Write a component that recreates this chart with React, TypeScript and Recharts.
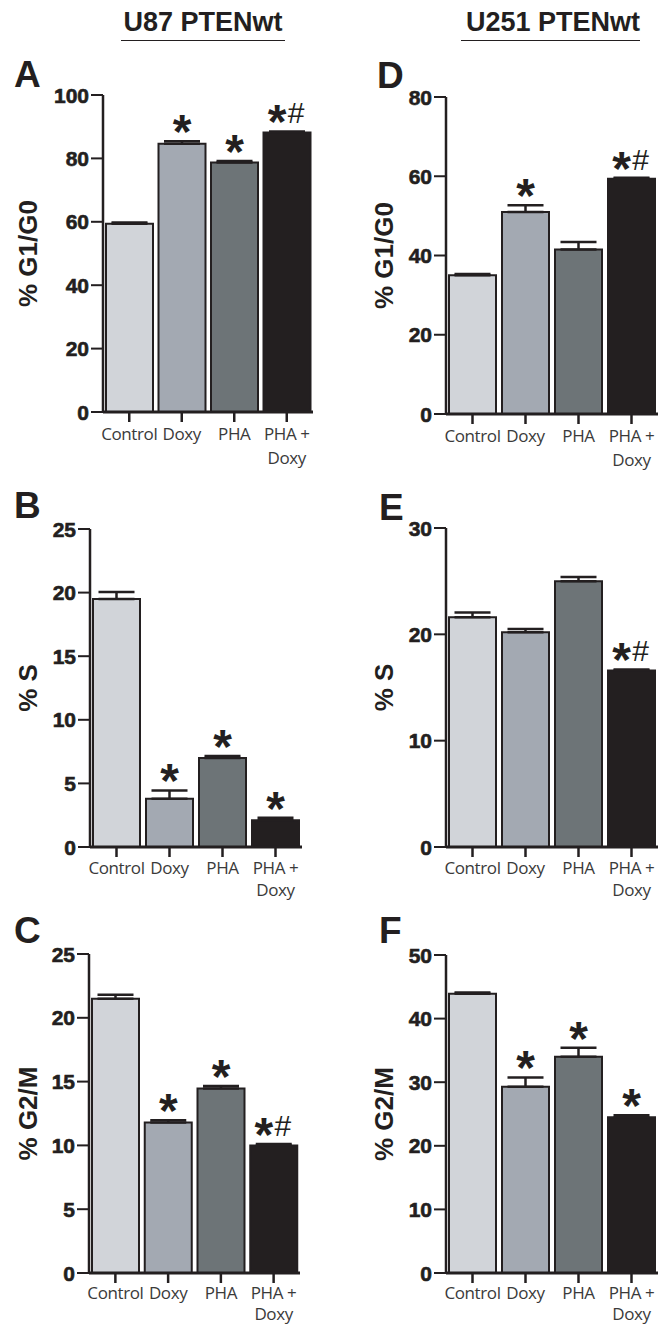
import { Bar, BarChart, Cell, ErrorBar, LabelList, XAxis, YAxis } from "recharts";

const INK = "#231f20";
const SANS = "'Liberation Sans', Arial, sans-serif";

const categories = ["Control", "Doxy", "PHA", "PHA + Doxy"];
const barColors = ["#d1d4d9", "#a3a9b2", "#6d7477", "#231f20"];

// U87 PTENwt
const u87G1 = [59.4, 84.6, 78.7, 88.2];
const u87G1Err = [0.4, 0.8, 0.5, 0.3];
const u87G1Marks = ["", "*", "*", "*#"];
const u87S = [19.5, 3.8, 7.0, 2.1];
const u87SErr = [0.55, 0.65, 0.15, 0.2];
const u87SMarks = ["", "*", "*", "*"];
const u87G2 = [21.5, 11.8, 14.45, 10.0];
const u87G2Err = [0.3, 0.18, 0.2, 0.1];
const u87G2Marks = ["", "*", "*", "*#"];

// U251 PTENwt
const u251G1 = [35.0, 51.0, 41.5, 59.4];
const u251G1Err = [0.3, 1.7, 1.9, 0.2];
const u251G1Marks = ["", "*", "", "*#"];
const u251S = [21.6, 20.2, 25.0, 16.6];
const u251SErr = [0.45, 0.3, 0.4, 0.1];
const u251SMarks = ["", "", "", "*#"];
const u251G2 = [43.9, 29.3, 34.0, 24.5];
const u251G2Err = [0.2, 1.45, 1.4, 0.3];
const u251G2Marks = ["", "*", "*", "*"];

const ticksG1U87 = [0, 20, 40, 60, 80, 100];
const ticksG1U251 = [0, 20, 40, 60, 80];
const ticksS25 = [0, 5, 10, 15, 20, 25];
const ticksS30 = [0, 10, 20, 30];
const ticksG2U251 = [0, 10, 20, 30, 40, 50];

function buildRows(values: number[], errors: number[], marks: string[]) {
  return categories.map((name, i) => ({
    name,
    value: values[i],
    err: [0, errors[i]],
    mark: marks[i],
  }));
}

function CategoryTick(props: any) {
  const { x, y, payload, gap, first } = props;
  const lines = payload.value === "PHA + Doxy" ? ["PHA +", "Doxy"] : [payload.value];
  return (
    <g>
      {lines.map((line: string, i: number) => (
        <text
          key={line}
          x={x}
          y={y + first + i * gap}
          textAnchor="middle"
          fill="#3a3a3a"
          style={{ fontSize: 17, letterSpacing: -0.4, fontFamily: "'Open Sans', sans-serif", fontWeight: 400 }}
        >
          {line}
        </text>
      ))}
    </g>
  );
}

function ValueTick(props: any) {
  const { x, y, payload } = props;
  return (
    <text
      x={x}
      y={y + 7.5}
      textAnchor="end"
      fill={INK}
      stroke={INK}
      strokeWidth={0.6}
      fontSize={21}
      fontWeight={700}
      fontFamily={SANS}
    >
      {payload.value}
    </text>
  );
}

function markRenderer(values: number[], errors: number[]) {
  return (props: any) => {
    const { x, y, width, height, value, index } = props;
    if (!value) return null;
    const scale = height / values[index];
    const capY = y - errors[index] * scale;
    const cx = x + width / 2;
    const hash = value.includes("#");
    return (
      <g>
        <text
          x={hash ? cx - 10 : cx}
          y={capY + 7}
          textAnchor="middle"
          fill={INK}
          style={{ fontSize: 48, fontWeight: 700, fontFamily: SANS }}
        >
          *
        </text>
        {hash && (
          <text
            x={cx + 9}
            y={capY - 8}
            textAnchor="middle"
            fill={INK}
            style={{ fontSize: 30, fontWeight: 400, fontFamily: SANS }}
          >
            #
          </text>
        )}
      </g>
    );
  };
}

type PanelProps = {
  col: number;
  axisX: number;
  axisRight: number;
  plotTop: number;
  plotBottom: number;
  ticks: number[];
  yLabel: string;
  labelX: number;
  lineFirst: number;
  lineGap: number;
  values: number[];
  errors: number[];
  marks: string[];
};

function Panel(p: PanelProps) {
  const width = 333;
  const top = p.plotTop - 40;
  const height = p.plotBottom - top + 60;
  const rows = buildRows(p.values, p.errors, p.marks);
  const midY = (p.plotTop + p.plotBottom) / 2 - top;
  const lx = p.labelX - p.col;
  return (
    <div style={{ position: "absolute", left: p.col, top, width, height }}>
      <BarChart
        width={width}
        height={height}
        data={rows}
        barSize={47}
        margin={{ top: 40, right: p.col + width - p.axisRight, bottom: 0, left: 0 }}
      >
        <XAxis
          dataKey="name"
          height={60}
          interval={0}
          tick={<CategoryTick gap={p.lineGap} first={p.lineFirst} />}
          tickSize={10}
          tickMargin={0}
          axisLine={{ stroke: INK, strokeWidth: 3 }}
          tickLine={{ stroke: INK, strokeWidth: 2.5 }}
        />
        <YAxis
          width={p.axisX - p.col}
          domain={[0, p.ticks[p.ticks.length - 1]]}
          ticks={p.ticks}
          interval={0}
          tickSize={12}
          tickMargin={2}
          axisLine={{ stroke: INK, strokeWidth: 2.5 }}
          tickLine={{ stroke: INK, strokeWidth: 2 }}
          tick={<ValueTick />}
          label={{
            content: () => (
              <text
                x={lx}
                y={midY}
                transform={`rotate(-90, ${lx}, ${midY})`}
                textAnchor="middle"
                dominantBaseline="central"
                fill={INK}
                style={{ fontSize: 26, fontWeight: 700, fontFamily: SANS }}
              >
                {p.yLabel}
              </text>
            ),
          }}
        />
        <Bar dataKey="value" stroke={INK} strokeWidth={2} isAnimationActive={false}>
          {rows.map((r, i) => (
            <Cell key={r.name} fill={barColors[i]} />
          ))}
          <ErrorBar dataKey="err" width={18} stroke={INK} strokeWidth={2.5} direction="y" />
          <LabelList dataKey="mark" content={markRenderer(p.values, p.errors)} />
        </Bar>
      </BarChart>
    </div>
  );
}

function PlacedText({ x, baseline, size, children }: { x: number; baseline: number; size: number; children: string }) {
  return (
    <div
      style={{
        position: "absolute",
        left: x,
        top: baseline - 0.8465 * size,
        fontSize: size,
        lineHeight: `${size}px`,
        fontWeight: 700,
        fontFamily: SANS,
        color: INK,
        whiteSpace: "nowrap",
      }}
    >
      {children}
    </div>
  );
}

function Heading({ center, from, to, children }: { center: number; from: number; to: number; children: string }) {
  return (
    <>
      <div
        style={{
          position: "absolute",
          left: center - 120,
          width: 240,
          top: 32 - 0.8465 * 27,
          fontSize: 27,
          lineHeight: "27px",
          fontWeight: 700,
          fontFamily: SANS,
          color: INK,
          textAlign: "center",
        }}
      >
        {children}
      </div>
      <div style={{ position: "absolute", left: from, width: to - from, top: 39.5, height: 1.5, background: INK }} />
    </>
  );
}

export default function App() {
  return (
    <div style={{ position: "absolute", left: 0, top: 0, width: 666, height: 1327, background: "#fff", overflow: "hidden" }}>
      <Heading center={203} from={121} to={285}>U87 PTENwt</Heading>
      <Heading center={553} from={461} to={640}>U251 PTENwt</Heading>

      <PlacedText x={14} baseline={87} size={37}>A</PlacedText>
      <PlacedText x={377} baseline={88} size={37}>D</PlacedText>
      <PlacedText x={14} baseline={518} size={37}>B</PlacedText>
      <PlacedText x={379} baseline={520} size={37}>E</PlacedText>
      <PlacedText x={14} baseline={943} size={37}>C</PlacedText>
      <PlacedText x={379} baseline={943} size={37}>F</PlacedText>

      <Panel col={0} axisX={103} axisRight={313} plotTop={95} plotBottom={412} ticks={ticksG1U87} yLabel="% G1/G0" labelX={28} lineFirst={18} lineGap={24} values={u87G1} errors={u87G1Err} marks={u87G1Marks} />
      <Panel col={333} axisX={446} axisRight={658} plotTop={97} plotBottom={414} ticks={ticksG1U251} yLabel="% G1/G0" labelX={384} lineFirst={18} lineGap={24} values={u251G1} errors={u251G1Err} marks={u251G1Marks} />
      <Panel col={0} axisX={90} axisRight={302} plotTop={529} plotBottom={847} ticks={ticksS25} yLabel="% S" labelX={28} lineFirst={17} lineGap={22} values={u87S} errors={u87SErr} marks={u87SMarks} />
      <Panel col={333} axisX={446} axisRight={658} plotTop={528} plotBottom={847} ticks={ticksS30} yLabel="% S" labelX={384} lineFirst={17} lineGap={22} values={u251S} errors={u251SErr} marks={u251SMarks} />
      <Panel col={0} axisX={89} axisRight={300} plotTop={954} plotBottom={1273} ticks={ticksS25} yLabel="% G2/M" labelX={28} lineFirst={16} lineGap={21} values={u87G2} errors={u87G2Err} marks={u87G2Marks} />
      <Panel col={333} axisX={446} axisRight={658} plotTop={955} plotBottom={1273} ticks={ticksG2U251} yLabel="% G2/M" labelX={384} lineFirst={16} lineGap={21} values={u251G2} errors={u251G2Err} marks={u251G2Marks} />
    </div>
  );
}
